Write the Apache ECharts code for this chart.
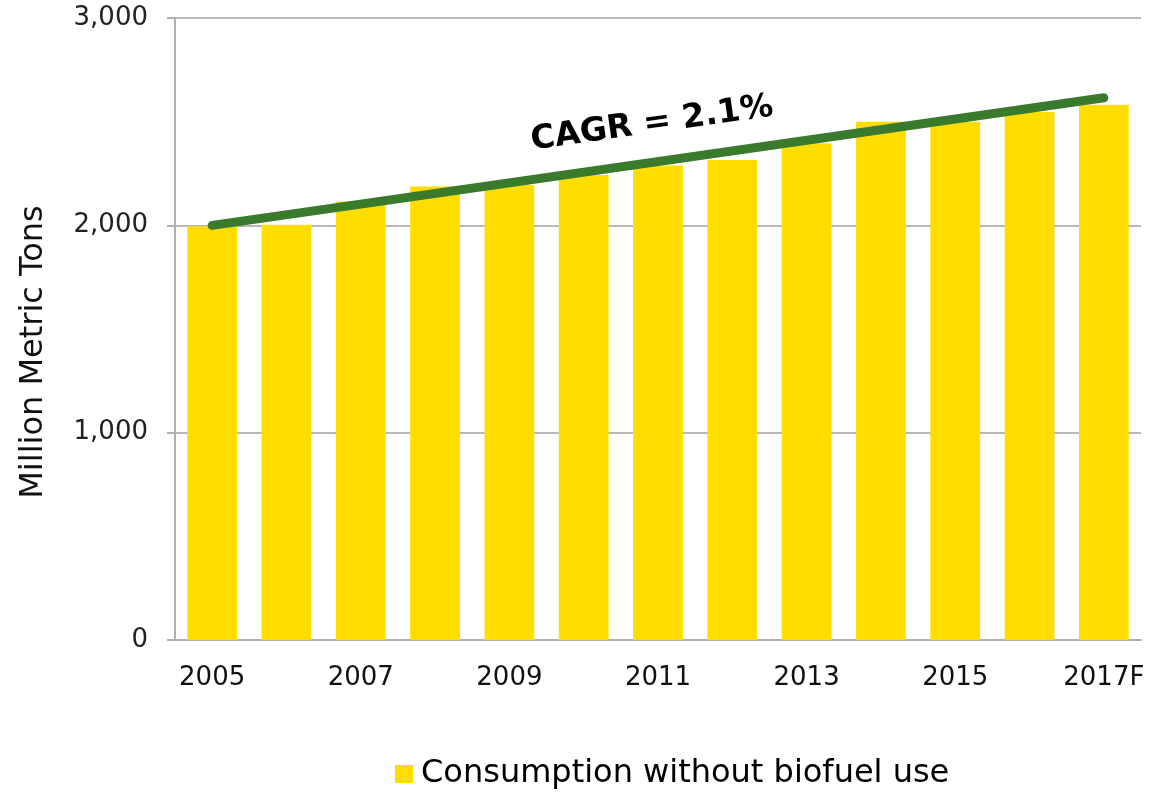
<!DOCTYPE html>
<html>
<head>
<meta charset="utf-8">
<script src="https://cdn.jsdelivr.net/npm/echarts@6/dist/echarts.min.js"></script>
<style>
html,body{margin:0;padding:0;background:#fff;}
#chart{width:1170px;height:793px;}
</style>
</head>
<body>
<div id="chart"></div>
<script>
const categories = ['2005','2006','2007','2008','2009','2010','2011','2012','2013','2014','2015','2016','2017F'];
const consumption = [1995, 2003, 2115, 2187, 2195, 2243, 2288, 2315, 2396, 2500, 2500, 2547, 2581];
const trendStart = 2000;
const trendEnd = 2615;
const yTicks = [0, 1000, 2000, 3000];
const seriesName = 'Consumption without biofuel use';
const cagrLabel = 'CAGR = 2.1%';

const trendData = categories.map((c, i) => i === 0 ? trendStart : (i === categories.length - 1 ? trendEnd : null));

const chart = echarts.init(document.getElementById('chart'));
const font = 'DejaVu Sans, Verdana, sans-serif';
chart.setOption({
  animation: false,
  grid: {left: 175, right: 29, top: 18, bottom: 153},
  legend: {
    data: [{name: seriesName, icon: 'rect'}],
    bottom: -2,
    left: 390,
    itemWidth: 18, itemHeight: 18, itemGap: 6,
    textStyle: {fontFamily: font, fontSize: 32, color: '#000', padding: [0, 0, 0, 3]}
  },
  xAxis: {
    type: 'category',
    data: categories,
    axisLine: {lineStyle: {color: '#b0b0b0', width: 2}},
    axisTick: {show: false},
    axisLabel: {interval: 1, fontFamily: font, fontSize: 26, color: '#111', margin: 25}
  },
  yAxis: {
    type: 'value',
    min: yTicks[0], max: yTicks[yTicks.length - 1], interval: 1000,
    name: 'Million Metric Tons',
    nameLocation: 'middle',
    nameGap: 125,
    nameTextStyle: {fontFamily: font, fontSize: 32, color: '#111', padding: [0, 46, 0, 0]},
    axisLine: {show: true, lineStyle: {color: '#b0b0b0', width: 2}},
    axisTick: {show: true, length: 8, lineStyle: {color: '#b0b0b0', width: 2}},
    splitLine: {lineStyle: {color: '#b8b8b8', width: 2}},
    axisLabel: {fontFamily: font, fontSize: 26, color: '#222', margin: 27,
      formatter: v => v.toLocaleString('en-US')}
  },
  series: [
    {
      name: seriesName,
      type: 'bar',
      data: consumption,
      barWidth: '67%',
      itemStyle: {color: '#FFDD00'}
    },
    {
      name: 'trend',
      type: 'line',
      data: trendData,
      connectNulls: true,
      symbol: 'none',
      lineStyle: {color: '#3a7a2c', width: 9, cap: 'round'},
      z: 5
    }
  ],
  graphic: [{
    type: 'text',
    x: 652, y: 124,
    rotation: 8 * Math.PI / 180,
    style: {
      text: cagrLabel,
      fontFamily: font, fontWeight: 'bold', fontSize: 33, fill: '#000',
      textAlign: 'center', textVerticalAlign: 'middle'
    }
  }]
});
</script>
</body>
</html>
